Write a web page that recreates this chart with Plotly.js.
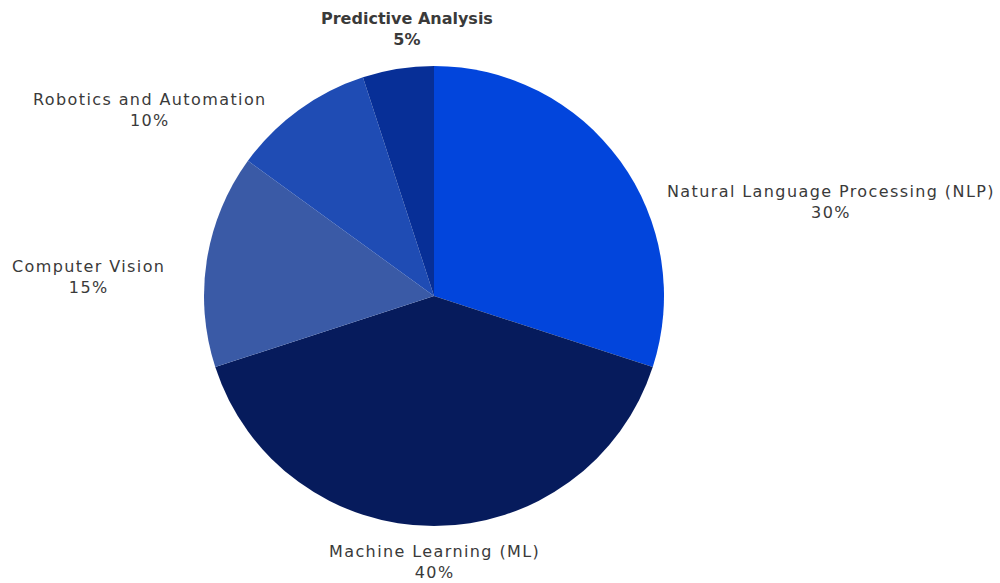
<!DOCTYPE html>
<html><head><meta charset="utf-8">
<script src="https://cdn.plot.ly/plotly-3.0.1.min.js"></script>
<style>html,body{margin:0;padding:0;background:#fff}#chart{width:1000px;height:583px}</style>
</head><body><div id="chart"></div>
<script>
const categories = ["Natural Language Processing (NLP)", "Machine Learning (ML)", "Computer Vision", "Robotics and Automation", "Predictive Analysis"];
const shares = [30, 40, 15, 10, 5];
const sliceColors = ["#0245dc", "#061b5c", "#3a5aa6", "#1f4cb4", "#072f97"];

// label placement (pixel centres of each two-line label block)
const labelPos = [[831, 202], [434, 562], [88, 277], [150, 110], [407, 29]];
const labelWeights = [400, 400, 400, 400, 700];
const labelSpacing = [1.4, 1.4, 1.4, 1.4, 0];

const W = 1000, H = 583;
const total = shares.reduce((a, b) => a + b, 0);

const trace = {
  type: "pie",
  labels: categories,
  values: shares,
  sort: false,
  direction: "clockwise",
  rotation: 0,
  marker: {colors: sliceColors, line: {width: 0}},
  textinfo: "none",
  domain: {x: [0.2, 0.668], y: [57 / H, 517 / H]},
  showlegend: false,
  hoverinfo: "label+percent"
};

const annotations = categories.map((c, i) => {
  const ls = "letter-spacing:" + labelSpacing[i] + "px";
  return {
    xref: "paper", yref: "paper",
    x: labelPos[i][0] / W, y: 1 - labelPos[i][1] / H,
    xanchor: "center", yanchor: "middle",
    showarrow: false,
    align: "center",
    text: '<span style="' + ls + '">' + c + '</span><br><span style="' + ls + '">' + Math.round(shares[i] / total * 100) + "%</span>",
    font: {family: "DejaVu Sans, sans-serif", size: 16, color: "#3a3a3a", weight: labelWeights[i]}
  };
});

const layout = {
  width: W, height: H,
  margin: {l: 0, r: 0, t: 0, b: 0},
  paper_bgcolor: "#ffffff",
  showlegend: false,
  annotations: annotations
};
Plotly.newPlot("chart", [trace], layout, {displayModeBar: false, staticPlot: true});
</script></body></html>
